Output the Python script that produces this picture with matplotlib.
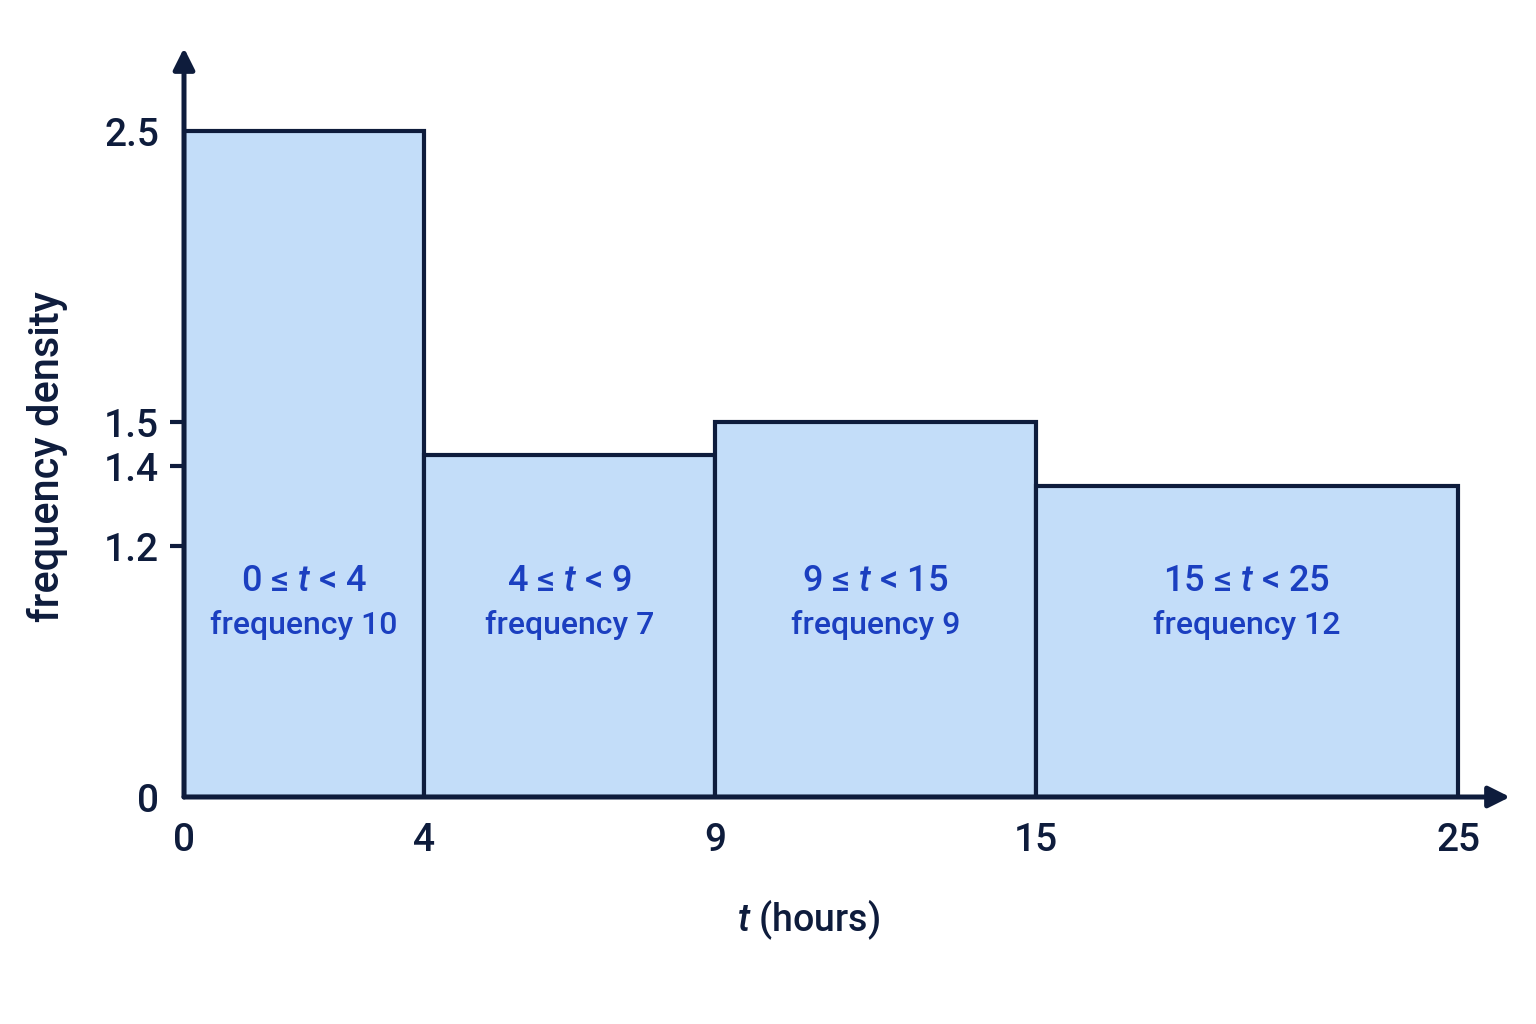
import numpy as np
import matplotlib
matplotlib.use("Agg")
import matplotlib.pyplot as plt
from matplotlib.transforms import blended_transform_factory

plt.rcParams['font.family'] = ['Roboto', 'DejaVu Sans']
plt.rcParams['font.weight'] = 'medium'
plt.rcParams['mathtext.fontset'] = 'custom'
plt.rcParams['mathtext.it'] = 'Roboto:italic:medium'
plt.rcParams['mathtext.rm'] = 'Roboto:medium'

# data
edges = [0, 4, 9, 15, 25]
heights = [2.5, 1.425, 1.5, 1.35]
ranges = ["0 ≤ $t$ < 4", "4 ≤ $t$ < 9", "9 ≤ $t$ < 15", "15 ≤ $t$ < 25"]
freqs = [10, 7, 9, 12]
yticks = [0, 1.2, 1.4, 1.5, 2.5]

navy = "#0e1c3c"
blue = "#1b3fc0"
fill = "#c3ddf9"

# the drawing is not to scale: piecewise linear axes
x_knots = [-100, 0, 4, 9, 15, 25, 125]
x_pos = [184 - 100 * 60, 184, 424, 715, 1036, 1458, 1458 + 100 * 42.2]
y_knots = [-100, 0, 1.2, 1.4, 1.5, 2.5, 102.5]
y_pos = [797 + 100 * 209, 797, 546, 466, 422, 131, 131 - 100 * 291]
y_pos = [-v for v in y_pos]


def fx(x):
    return np.interp(x, x_knots, x_pos)


def ix(u):
    return np.interp(u, x_pos, x_knots)


def fy(y):
    return np.interp(y, y_knots, y_pos)


def iy(u):
    return np.interp(u, y_pos, y_knots)


fig = plt.figure(figsize=(15.36, 10.24), dpi=100)
ax = fig.add_axes([184 / 1536, 227 / 1024, 1326 / 1536, 749 / 1024])
ax.set_xscale('function', functions=(fx, ix))
ax.set_yscale('function', functions=(fy, iy))
ax.set_xlim(0, 25 + 52 / 42.2)
ax.set_ylim(0, 2.5 + 83 / 291)

widths = np.diff(edges)
ax.bar(edges[:-1], heights, width=widths, align='edge', color=fill,
       edgecolor=navy, linewidth=3.0, zorder=2)

tr = blended_transform_factory(ax.transData, ax.transAxes)
for i in range(len(freqs)):
    cx = (edges[i] + edges[i + 1]) / 2
    ax.text(cx, 0.288, ranges[i], transform=tr, ha='center', va='center',
            fontsize=26, color=blue, zorder=3)
    ax.text(cx, 0.229, "frequency %d" % freqs[i], transform=tr, ha='center',
            va='center', fontsize=23, color=blue, zorder=3)

for s in ax.spines.values():
    s.set_visible(False)

ax.annotate('', xy=(1, 0), xytext=(0, 0), xycoords='axes fraction',
            arrowprops=dict(arrowstyle='-|>', lw=3.6, color=navy,
                            mutation_scale=32, shrinkA=0, shrinkB=0), zorder=4)
ax.annotate('', xy=(0, 1), xytext=(0, 0), xycoords='axes fraction',
            arrowprops=dict(arrowstyle='-|>', lw=3.6, color=navy,
                            mutation_scale=32, shrinkA=0, shrinkB=0), zorder=4)

ax.set_xticks(edges)
ax.set_xticklabels([str(e) for e in edges])
ax.set_yticks(yticks)
ax.set_yticklabels(["0", "1.2", "1.4", "1.5", "2.5"])
ax.tick_params(axis='x', length=0, pad=18, labelsize=28, labelcolor=navy)
ax.tick_params(axis='y', length=10, width=3, color=navy, pad=8,
               labelsize=28, labelcolor=navy)
for i in (0, 4):
    ax.yaxis.get_major_ticks()[i].tick1line.set_visible(False)

ax.text(0.4706, -0.164, "$t$ (hours)", transform=ax.transAxes, ha='center',
        va='center', fontsize=27, color=navy)
ax.text(-0.1026, 0.455, "frequency density", transform=ax.transAxes,
        rotation=90, ha='center', va='center', fontsize=30, color=navy)

fig.savefig("out.png", dpi=100, facecolor='white')
